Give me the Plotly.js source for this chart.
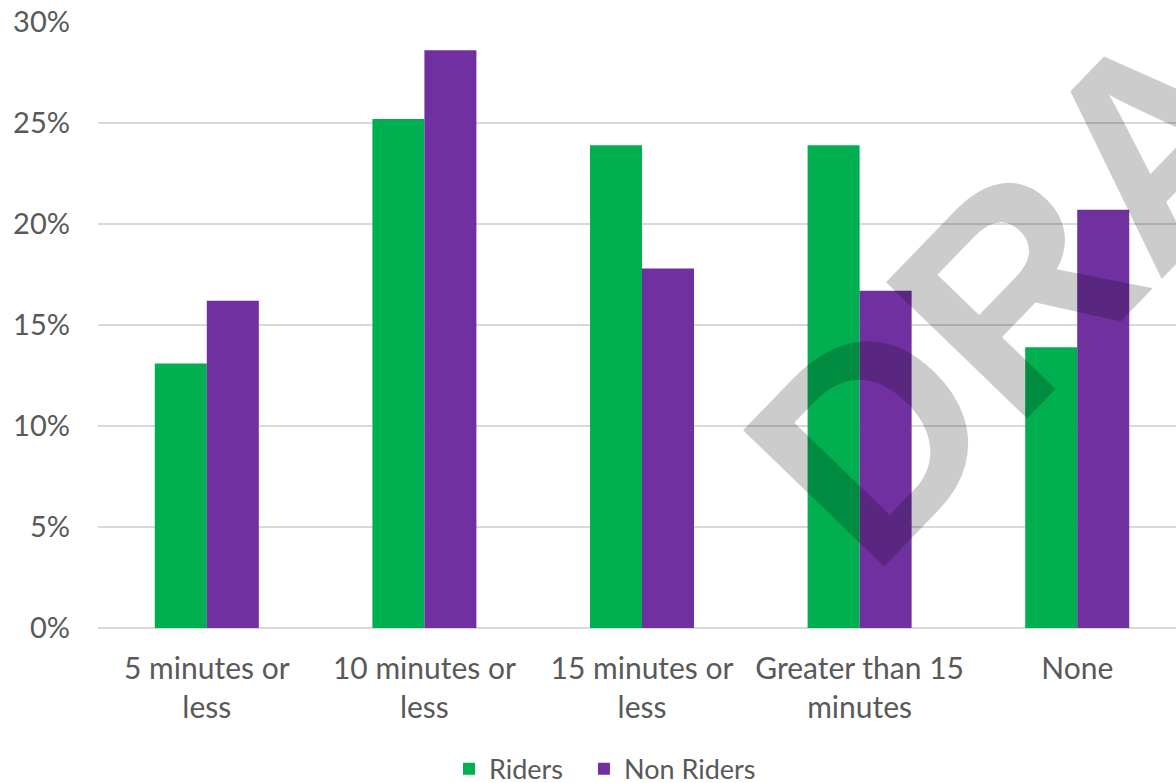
<!DOCTYPE html>
<html>
<head>
<meta charset="utf-8">
<script src="https://cdn.plot.ly/plotly-3.0.1.min.js"></script>
<style>html,body{margin:0;padding:0;background:#fff;}#chart{width:1176px;height:783px;}</style>
</head>
<body>
<div id="chart"></div>
<script>
const categories = ["5 minutes or<br>less", "10 minutes or<br>less", "15 minutes or<br>less", "Greater than 15<br>minutes", "None"];
const riders = [13.1, 25.2, 23.9, 23.9, 13.9];
const nonRiders = [16.2, 28.6, 17.8, 16.7, 20.7];
const seriesNames = ["Riders", "Non Riders"];
const yTicks = [0, 5, 10, 15, 20, 25, 30];
const yTickLabels = ["0%", "5%", "10%", "15%", "20%", "25%", "30%"];

const textColor = "#595959";
const font = "Lato, 'Open Sans', sans-serif";

const data = [
  {type: "bar", name: seriesNames[0], x: categories, y: riders, marker: {color: "#00B050"}, hoverinfo: "skip", legend: "legend"},
  {type: "bar", name: seriesNames[1], x: categories, y: nonRiders, marker: {color: "#7030A0"}, hoverinfo: "skip", legend: "legend2"}
];

const legendBase = {
  orientation: "h", xref: "paper", xanchor: "left",
  y: -0.233, yanchor: "middle",
  font: {family: font, size: 27, color: textColor},
  itemclick: false, itemdoubleclick: false
};

const layout = {
  width: 1176, height: 783,
  margin: {l: 98, r: 0, t: 22, b: 155, pad: 0, autoexpand: false},
  paper_bgcolor: "#ffffff", plot_bgcolor: "#ffffff",
  font: {family: font, size: 29, color: textColor},
  barmode: "group", bargap: 0.522, bargroupgap: 0,
  showlegend: true,
  xaxis: {
    type: "category", range: [-0.5, 4.454], showgrid: false, zeroline: false,
    showline: false, ticks: "", ticklabelstandoff: 20, tickangle: 0, automargin: false,
    tickfont: {family: font, size: 30, color: textColor}, fixedrange: true
  },
  yaxis: {
    range: [0, 30], tickvals: yTicks, ticktext: yTickLabels,
    showgrid: true, gridcolor: "#D9D9D9", gridwidth: 1.5,
    zeroline: true, zerolinecolor: "#D9D9D9", zerolinewidth: 1.5,
    showline: false, ticks: "", ticklabelstandoff: 27, automargin: false,
    tickfont: {family: font, size: 29, color: textColor}, fixedrange: true
  },
  legend: Object.assign({}, legendBase, {x: 0.3256}),
  legend2: Object.assign({}, legendBase, {x: 0.4508}),
  annotations: [{
    text: "<b>DRAFT</b>", xref: "paper", yref: "paper", x: 0.962, y: 0.766,
    xanchor: "center", yanchor: "middle", showarrow: false, textangle: -46,
    font: {family: "'Liberation Sans', Arial, sans-serif", size: 285, color: "rgba(0,0,0,0.2)"}
  }]
};

Plotly.newPlot("chart", data, layout, {displayModeBar: false, staticPlot: true});
</script>
</body>
</html>
